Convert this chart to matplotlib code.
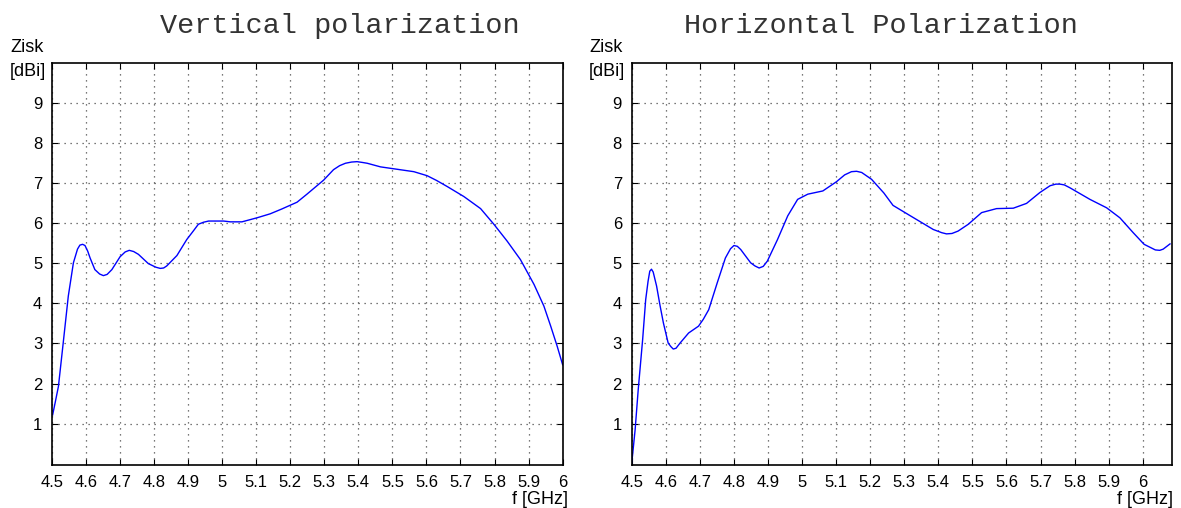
import numpy as np
import matplotlib
matplotlib.use("Agg")
import matplotlib.pyplot as plt

# gain curves (f in GHz, gain in dBi)
f_vert = [4.502, 4.510, 4.519, 4.533, 4.548, 4.563, 4.575, 4.582, 4.590, 4.597,
          4.605, 4.612, 4.626, 4.640, 4.651, 4.662, 4.676, 4.700, 4.715, 4.727,
          4.740, 4.754, 4.783, 4.805, 4.818, 4.828, 4.837, 4.867, 4.896, 4.915,
          4.930, 4.945, 4.960, 4.980, 5.004, 5.024, 5.058, 5.102, 5.141, 5.175,
          5.220, 5.249, 5.298, 5.327, 5.345, 5.362, 5.380, 5.396, 5.412, 5.426,
          5.465, 5.514, 5.563, 5.602, 5.630, 5.661, 5.710, 5.759, 5.798, 5.837,
          5.876, 5.916, 5.945, 5.965, 5.984, 6.000]
g_vert = [1.22, 1.55, 1.93, 3.01, 4.18, 5.01, 5.35, 5.45, 5.47, 5.44,
          5.30, 5.13, 4.84, 4.73, 4.69, 4.72, 4.84, 5.16, 5.28, 5.32,
          5.29, 5.22, 4.99, 4.90, 4.87, 4.88, 4.93, 5.19, 5.59, 5.80,
          5.97, 6.02, 6.05, 6.05, 6.05, 6.03, 6.03, 6.13, 6.23, 6.35,
          6.52, 6.72, 7.07, 7.33, 7.43, 7.49, 7.52, 7.53, 7.51, 7.49,
          7.40, 7.34, 7.28, 7.18, 7.06, 6.91, 6.66, 6.36, 5.97, 5.55,
          5.09, 4.47, 3.93, 3.43, 2.93, 2.47]

f_horz = [4.500, 4.510, 4.519, 4.532, 4.541, 4.548, 4.553, 4.558, 4.563, 4.573,
          4.583, 4.593, 4.607, 4.615, 4.622, 4.630, 4.642, 4.667, 4.696, 4.710,
          4.726, 4.751, 4.775, 4.790, 4.800, 4.810, 4.820, 4.849, 4.862, 4.874,
          4.886, 4.898, 4.928, 4.958, 4.987, 5.017, 5.061, 5.101, 5.125, 5.145,
          5.160, 5.175, 5.204, 5.240, 5.267, 5.316, 5.385, 5.410, 5.424, 5.440,
          5.458, 5.488, 5.527, 5.571, 5.620, 5.659, 5.698, 5.728, 5.745, 5.757,
          5.770, 5.786, 5.845, 5.894, 5.933, 5.972, 6.004, 6.037, 6.050, 6.060,
          6.080]
g_horz = [0.01, 0.85, 1.84, 3.09, 4.09, 4.55, 4.80, 4.85, 4.78, 4.43,
          3.95, 3.51, 3.01, 2.92, 2.86, 2.88, 3.01, 3.26, 3.43, 3.60,
          3.84, 4.51, 5.13, 5.36, 5.44, 5.42, 5.34, 5.01, 4.93, 4.88,
          4.92, 5.05, 5.59, 6.18, 6.59, 6.72, 6.80, 7.03, 7.20, 7.28,
          7.29, 7.26, 7.09, 6.75, 6.44, 6.19, 5.84, 5.76, 5.73, 5.74,
          5.80, 5.97, 6.26, 6.36, 6.37, 6.49, 6.76, 6.93, 6.97, 6.97,
          6.95, 6.88, 6.59, 6.38, 6.13, 5.76, 5.47, 5.33, 5.32, 5.35,
          5.48]

xticks_v = [4.5, 4.6, 4.7, 4.8, 4.9, 5.0, 5.1, 5.2, 5.3, 5.4, 5.5, 5.6, 5.7, 5.8, 5.9, 6.0]
xticks_h = xticks_v
xlabels = ['4.5', '4.6', '4.7', '4.8', '4.9', '5', '5.1', '5.2', '5.3', '5.4',
           '5.5', '5.6', '5.7', '5.8', '5.9', '6']
yticks = [1, 2, 3, 4, 5, 6, 7, 8, 9]

plt.rcParams['font.family'] = ['Liberation Sans', 'DejaVu Sans']

fig = plt.figure(figsize=(11.81, 5.08), dpi=100)
ax1 = fig.add_axes([0.0440, 0.0846, 0.4324, 0.7923])
ax2 = fig.add_axes([0.5349, 0.0846, 0.4578, 0.7923])

panels = [(ax1, f_vert, g_vert, xticks_v, (4.5, 6.0)),
          (ax2, f_horz, g_horz, xticks_h, (4.5, 6.087))]

for ax, fx, gx, xt, xl in panels:
    ax.plot(fx, gx, color='#0000ff', lw=1.0)
    ax.set_xlim(*xl)
    ax.set_ylim(-0.03, 10)
    ax.set_xticks(xt)
    ax.set_xticklabels(xlabels)
    ax.set_yticks(yticks)
    ax.grid(True, color='0.3', linestyle=(0, (1, 3.8)), linewidth=0.9)
    ax.tick_params(direction='in', length=4, width=0.8, top=True, right=True,
                   labelsize=12, pad=7)
    for s in ax.spines.values():
        s.set_linewidth(1.2)

# axis captions
for x0 in (10 / 1181, 589 / 1181):
    fig.text(x0, (508 - 52) / 508, 'Zisk', fontsize=13)
    fig.text(x0, (508 - 76) / 508, '[dBi]', fontsize=13)
fig.text(568 / 1181, (508 - 504) / 508, 'f [GHz]', fontsize=13, ha='right')
fig.text(1173 / 1181, (508 - 504) / 508, 'f [GHz]', fontsize=13, ha='right')

# titles
fig.text(340 / 1181, (508 - 33) / 508, 'Vertical polarization', fontsize=20.5,
         family='Liberation Mono', ha='center', color='0.2')
fig.text(881 / 1181, (508 - 33) / 508, 'Horizontal Polarization', fontsize=20.5,
         family='Liberation Mono', ha='center', color='0.2')

fig.savefig('out.png', dpi=100)
